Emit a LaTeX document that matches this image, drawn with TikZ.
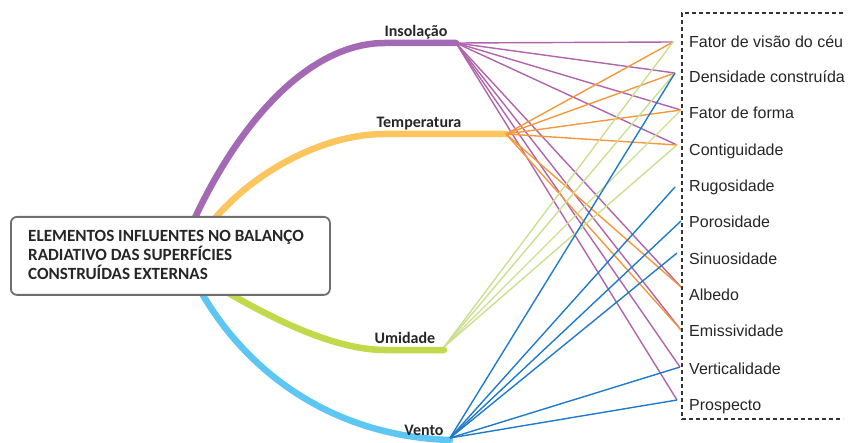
\documentclass[tikz,border=0pt]{standalone}
\usepackage{fontspec}
\setmainfont{Liberation Sans}
\newfontfamily\carl{Carlito}
\definecolor{pur}{HTML}{A469B4}
\definecolor{purl}{HTML}{B064AC}
\definecolor{ora}{HTML}{FCC55E}
\definecolor{oral}{HTML}{F4983E}
\definecolor{gre}{HTML}{C3D94C}
\definecolor{grel}{HTML}{CCDF90}
\definecolor{blu}{HTML}{5EC6F2}
\definecolor{blul}{HTML}{1F7BC9}
\definecolor{boxgray}{HTML}{6E6E6E}
\definecolor{txt}{HTML}{262626}
\begin{document}
\begin{tikzpicture}[x=1pt,y=-1pt,
 branch/.style={line width=6.5pt, line cap=round},
 fan/.style={line width=1.4pt},
 item/.style={anchor=base west, inner sep=0, font=\fontsize{16}{19}\selectfont, text=txt},
 lbl/.style={anchor=base, inner sep=0, font=\carl\bfseries\fontsize{16}{19}\selectfont, text=txt},
 boxtxt/.style={anchor=base west, inner sep=0, font=\carl\bfseries\fontsize{17.1}{19}\selectfont, text=txt},
 mainbox/.style={draw=boxgray, line width=1.8pt, rounded corners=6pt, fill=white, anchor=north west, inner sep=0, minimum width=319pt, minimum height=78pt},
 listbox/.style={dash pattern=on 4pt off 3pt, line width=1.8pt, draw=black!80}]
\useasboundingbox (0,0) rectangle (848,443);

% sources
\coordinate (sI) at (456,43);
\coordinate (sT) at (506,134);
\coordinate (sU) at (444,347);
\coordinate (sV) at (450,438);

% targets
\coordinate (t1) at (673,42);
\coordinate (t2) at (675,73);
\coordinate (t3) at (681,110);
\coordinate (t4) at (677,145);
\coordinate (t5) at (675,187);
\coordinate (t6) at (681,221);
\coordinate (t7) at (677,253);
\coordinate (t8) at (681,287);
\coordinate (t9) at (681,330);
\coordinate (t10) at (680,367);
\coordinate (t11) at (677,400);

% thick branches
\draw[branch,pur] (193,222) .. controls (240,120) and (310,43) .. (385,43) -- (456,43);
\draw[branch,ora] (212,222) .. controls (250,175) and (320,134) .. (385,134) -- (506,134);
\draw[branch,gre] (223,290) .. controls (263,313) and (330,350) .. (385,350) -- (444,350);
\draw[branch,blu] (200,290) .. controls (245,370) and (330,436) .. (450,440);

% fan lines
\foreach \t in {t1,t2,t3,t4,t8,t9,t10,t11} \draw[fan,purl] (sI) -- (\t);
\foreach \t in {t1,t2,t3,t4,t8,t9} \draw[fan,oral] (sT) -- (\t);
\foreach \t in {t1,t2,t3,t4} \draw[fan,grel] (sU) -- (\t);
\foreach \t in {t2,t5,t6,t7,t10,t11} \draw[fan,blul] (sV) -- (\t);

% main box
\node[mainbox] (box) at (10,216) {};
\node[boxtxt] (b1) at (28,242) {ELEMENTOS INFLUENTES NO BALANÇO};
\node[boxtxt] (b2) at (28,261) {RADIATIVO DAS SUPERFÍCIES};
\node[boxtxt] (b3) at (28,280) {CONSTRUÍDAS EXTERNAS};

% branch labels
\node[lbl] (lI) at (416,37) {Insolação};
\node[lbl] (lT) at (419,128) {Temperatura};
\node[lbl] (lU) at (405,344) {Umidade};
\node[lbl] (lV) at (424,435) {Vento};

% list box
\draw[listbox] (843,13) -- (682,13) -- (682,419) -- (843,419);

\node[item] (i1) at (689,48) {Fator de visão do céu};
\node[item] (i2) at (689,83) {Densidade construída};
\node[item] (i3) at (689,119) {Fator de forma};
\node[item] (i4) at (689,156) {Contiguidade};
\node[item] (i5) at (689,192) {Rugosidade};
\node[item] (i6) at (689,228) {Porosidade};
\node[item] (i7) at (689,265) {Sinuosidade};
\node[item] (i8) at (689,301) {Albedo};
\node[item] (i9) at (689,337) {Emissividade};
\node[item] (i10) at (689,374) {Verticalidade};
\node[item] (i11) at (689,410) {Prospecto};
\end{tikzpicture}
\end{document}
